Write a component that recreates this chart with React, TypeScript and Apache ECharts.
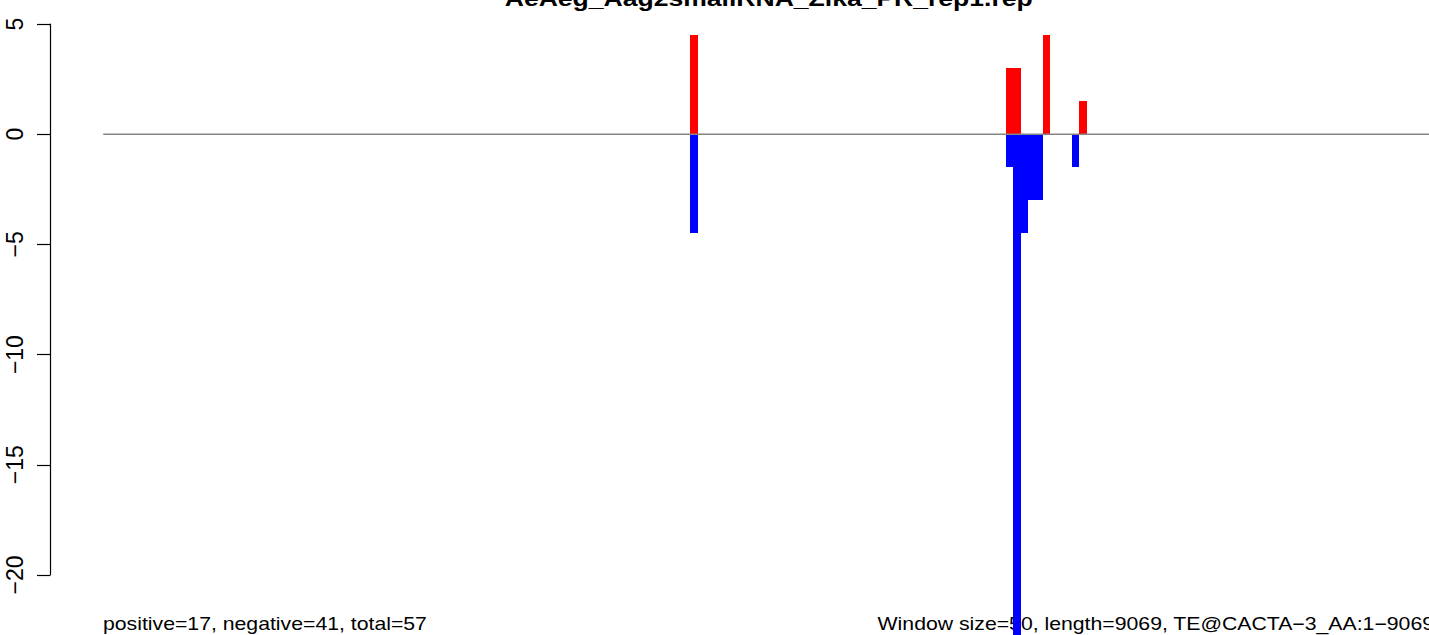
import React, { useEffect, useRef } from "react";
import * as echarts from "echarts";

const windowSize = 50;
const seqLength = 9069;
const title = "AeAeg_Aag2smallRNA_Zika_PR_rep1.rep";
const leftNote = "positive=17, negative=41, total=57";
const rightNote = "Window size=50, length=9069, TE@CACTA\u22123_AA:1\u22129069";

// window indices (window start = index * windowSize) and values
const posWindows = [80, 123, 124, 128, 133];
const posValues = [4.5, 3, 3, 4.5, 1.5];
const negWindows = [80, 123, 124, 125, 126, 127, 132];
const negValues = [-4.5, -1.5, -23.5, -4.5, -3, -3, -1.5];

export default function App() {
  const ref = useRef<HTMLDivElement>(null);
  useEffect(() => {
    if (!ref.current) return;
    const chart = echarts.init(ref.current, null, { renderer: "svg" });
    const pad = seqLength * 0.04;
    const barRender = (color: string) => (params: any, api: any) => {
      const x0 = api.value(0);
      const v = api.value(1);
      const p0 = api.coord([x0, 0]);
      const p1 = api.coord([x0 + windowSize, v]);
      const xa = Math.round(p0[0]);
      const xb = Math.round(p1[0]);
      const ya = Math.round(Math.min(p0[1], p1[1]));
      const yb = Math.round(Math.max(p0[1], p1[1]));
      return {
        type: "rect",
        shape: { x: xa, y: ya, width: xb - xa, height: yb - ya },
        style: { fill: color },
      };
    };
    const sx = 1.18;
    chart.setOption({
      animation: false,
      grid: {
        left: 50,
        top: 24,
        width: 1437.5,
        height: 551,
        containLabel: false,
        outerBoundsMode: "none",
      },
      xAxis: { type: "value", min: -pad, max: seqLength + pad, show: false },
      yAxis: {
        type: "value",
        min: -20,
        max: 5,
        interval: 5,
        splitLine: { show: false },
        axisLine: { show: true, onZero: false, lineStyle: { color: "#000", width: 1.2 } },
        axisTick: { show: true, length: 13, lineStyle: { color: "#000", width: 1.2 } },
        axisLabel: {
          rotate: 90,
          margin: 24,
          fontSize: 23,
          fontFamily: "Liberation Sans",
          color: "#000",
          formatter: (v: number) => String(v).replace("-", "\u2212"),
        },
      },
      series: [
        {
          type: "custom",
          renderItem: barRender("#ff0000"),
          data: posWindows.map((w, i) => [w * windowSize, posValues[i]]),
          clip: false,
          z: 2,
        },
        {
          type: "custom",
          renderItem: barRender("#0000ff"),
          data: negWindows.map((w, i) => [w * windowSize, negValues[i]]),
          clip: false,
          z: 2,
        },
        {
          type: "line",
          data: [
            [0, 0],
            [seqLength, 0],
          ],
          symbol: "none",
          lineStyle: { color: "#858585", width: 1.4 },
          z: 3,
        },
      ],
      graphic: [
        {
          type: "text",
          x: 768.75,
          y: 10,
          scaleX: sx,
          style: {
            text: title,
            fontSize: 22.5,
            fontWeight: "bold",
            fontFamily: "Liberation Sans",
            fill: "#000",
            textAlign: "center",
            textVerticalAlign: "bottom",
          },
        },
        {
          type: "text",
          x: 103,
          y: 633,
          scaleX: sx,
          style: {
            text: leftNote,
            fontSize: 18,
            fontFamily: "Liberation Sans",
            fill: "#000",
            textAlign: "left",
            textVerticalAlign: "bottom",
          },
        },
        {
          type: "text",
          x: 1434,
          y: 633,
          scaleX: sx,
          style: {
            text: rightNote,
            fontSize: 18,
            fontFamily: "Liberation Sans",
            fill: "#000",
            textAlign: "right",
            textVerticalAlign: "bottom",
          },
        },
      ],
    });
    return () => chart.dispose();
  }, []);
  return (
    <div
      ref={ref}
      style={{ position: "absolute", left: 0, top: 0, width: 1429, height: 635, background: "#fff" }}
    />
  );
}
